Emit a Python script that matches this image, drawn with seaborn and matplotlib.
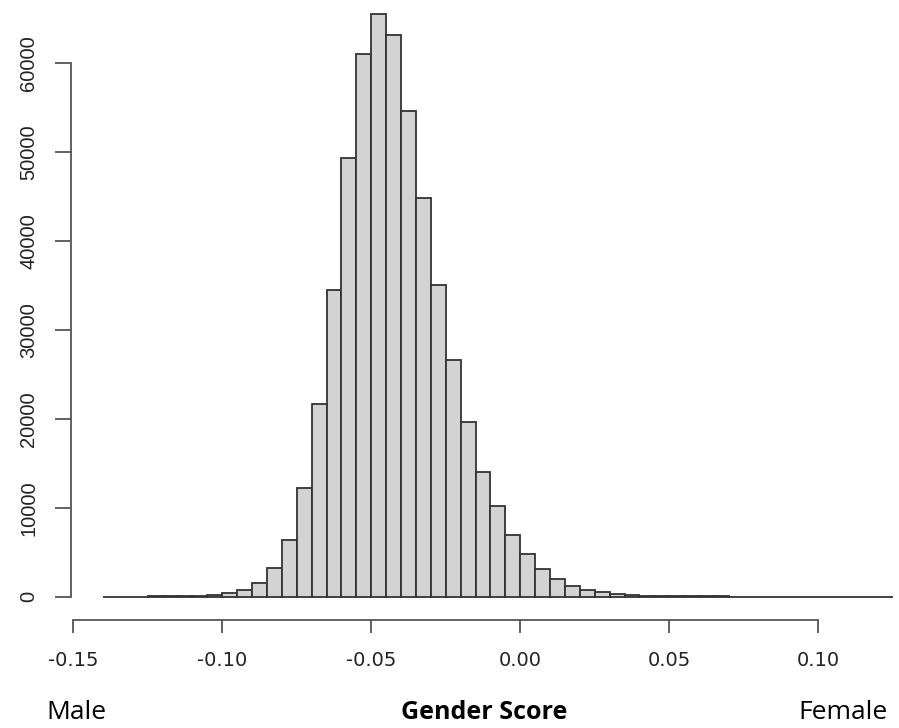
import numpy as np
import pandas as pd
import matplotlib
matplotlib.use("Agg")
import matplotlib.pyplot as plt
import seaborn as sns

# ---- data ----
bin_start = -0.14
bin_width = 0.005
counts = [10, 15, 20, 30, 40, 60, 110, 230, 430, 780,
          1540, 3200, 6400, 12200, 21650, 34500, 49300, 61000, 65600, 63200,
          54650, 44900, 35050, 26600, 19700, 14080, 10150, 6980, 4790, 3110,
          1990, 1240, 790, 490, 300, 190, 120, 80, 55, 40,
          30, 25, 20, 15, 12, 10, 8, 7, 6, 5,
          4, 3, 3]
x_ticks = [-0.15, -0.10, -0.05, 0.00, 0.05, 0.10]
x_tick_labels = ["-0.15", "-0.10", "-0.05", "0.00", "0.05", "0.10"]
y_ticks = [0, 10000, 20000, 30000, 40000, 50000, 60000]
y_tick_labels = ["0", "10000", "20000", "30000", "40000", "50000", "60000"]
left_label = "Male"
center_label = "Gender Score"
right_label = "Female"

n = len(counts)
edges = [round(bin_start + bin_width * i, 4) for i in range(n + 1)]
centers = [(edges[i] + edges[i + 1]) / 2 for i in range(n)]
df = pd.DataFrame({"score": centers, "count": counts})

sns.set_style("white")
plt.rcParams["font.family"] = ["Liberation Sans", "DejaVu Sans"]

W, H = 899, 728
fig = plt.figure(figsize=(W / 100, H / 100), dpi=100)
ax_left_px, ax_bottom_px = 70.7, 620.0
ax = fig.add_axes([ax_left_px / W, (H - ax_bottom_px) / H,
                   (W - ax_left_px) / W, ax_bottom_px / H])

sns.histplot(data=df, x="score", weights="count", bins=edges, ax=ax,
             color="#D3D3D3", edgecolor="#333333", linewidth=1.3, alpha=1.0)

# axis limits matched to the reference's pixel scale
ax.set_xlim(-0.15087, 0.12709)
ax.set_ylim(-2621, 67120)

for s in ["top", "right"]:
    ax.spines[s].set_visible(False)
for s in ["left", "bottom"]:
    ax.spines[s].set_color("#555555")
    ax.spines[s].set_linewidth(1.3)
ax.spines["bottom"].set_bounds(x_ticks[0], x_ticks[-1])
ax.spines["left"].set_bounds(y_ticks[0], y_ticks[-1])

ax.set_xticks(x_ticks)
ax.set_xticklabels(x_tick_labels, fontfamily="DejaVu Sans", fontsize=14, color="#222222")
ax.set_yticks(y_ticks)
ax.set_yticklabels(y_tick_labels, rotation=90, va="center", fontsize=14.5, color="#222222")
ax.tick_params(axis="x", length=9.1, width=1.3, color="#555555", pad=13.5, bottom=True)
ax.tick_params(axis="y", length=11.8, width=1.3, color="#555555", pad=11.5, left=True)
ax.set_xlabel("")
ax.set_ylabel("")
ax.grid(False)

base_y = (H - 719) / H
fig.text(46 / W, base_y, left_label, ha="left", va="baseline",
         fontfamily="Open Sans", fontsize=19, color="black")
fig.text(484 / W, base_y, center_label, ha="center", va="baseline",
         fontfamily="Open Sans", fontweight="bold", fontsize=18, color="black")
fig.text(798 / W, base_y, right_label, ha="left", va="baseline",
         fontfamily="Open Sans", fontsize=19, color="black")

fig.savefig("out.png", dpi=100, facecolor="white")
